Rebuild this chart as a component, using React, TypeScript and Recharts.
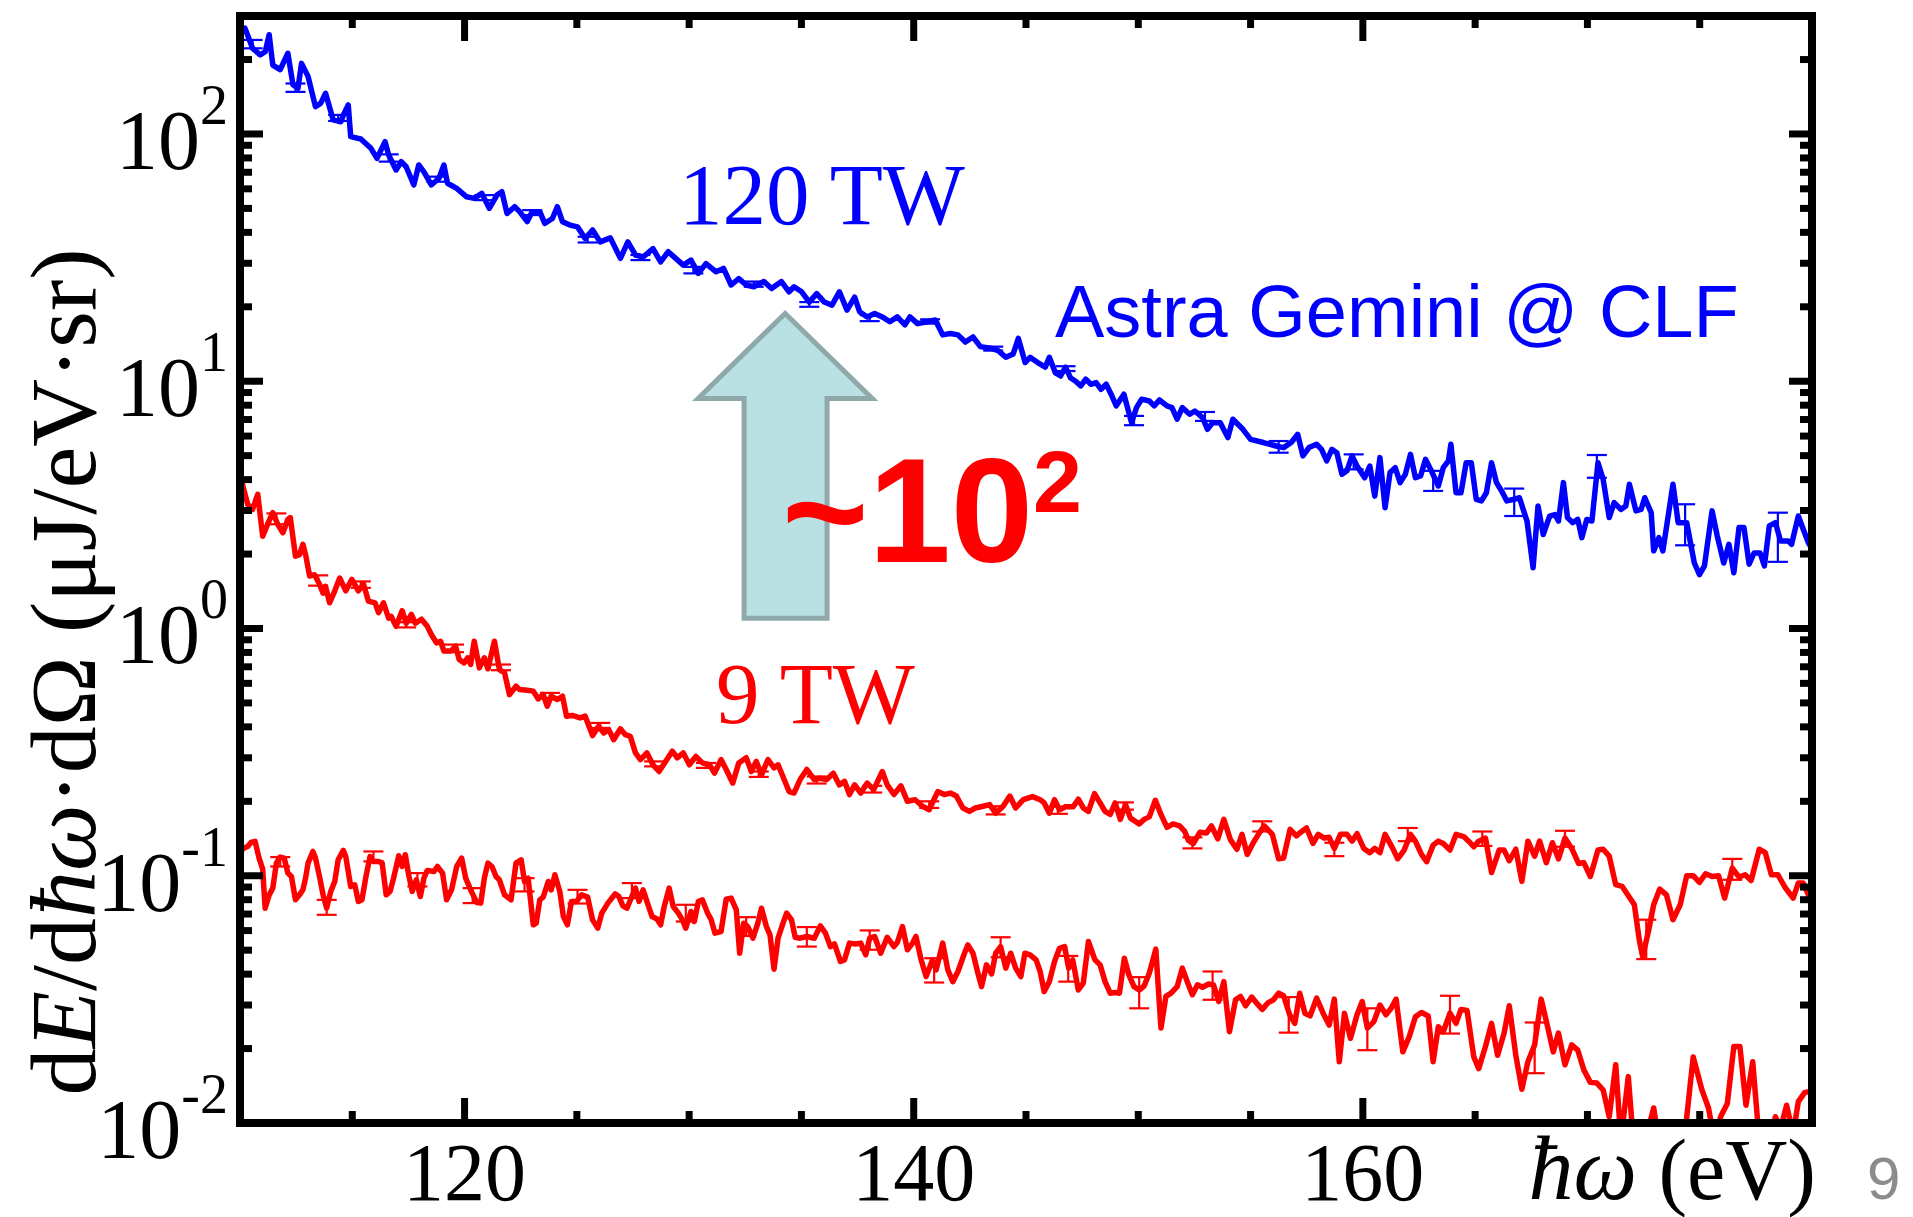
import React from 'react';
import { ComposedChart, Line, Scatter, XAxis, YAxis, ErrorBar, ReferenceArea } from 'recharts';

const W = 1913;
const H = 1217;
const SERIF = '"Liberation Serif", "Times New Roman", serif';
const SANS = '"Liberation Sans", Arial, sans-serif';
const BLUE = '#0000ff';
const RED = '#ff0000';

// axes
const X_DOMAIN: [number, number] = [110, 180];
const Y_DOMAIN: [number, number] = [0.01, 300];
const X_TICKS = [115, 120, 125, 130, 135, 140, 145, 150, 155, 160, 165, 170, 175, 180];
const X_MAJOR = [120, 140, 160, 180];
const X_LABELED = [120, 140, 160];
const Y_DECADES = [-2, -1, 0, 1, 2];
const Y_STEPS = [1, 2, 3, 4, 5, 6, 7, 8, 9];

// photon energy (eV) vs dE/dħω·dΩ (µJ/eV·sr)
const BLUE_120TW: [number, number][] = [
  [110.0, 265], [110.22, 268], [110.56, 222], [110.9, 209], [111.12, 215], [111.3, 252], [111.46, 190], [111.79, 182],
  [112.13, 212], [112.36, 158], [112.58, 153], [112.74, 193], [113.03, 171], [113.36, 129], [113.59, 133], [113.81, 146],
  [114.15, 114], [114.49, 112], [114.6, 119], [114.82, 131], [114.93, 97.5], [115.38, 95.4], [115.83, 87.5], [116.1, 79.7],
  [116.46, 93.1], [116.62, 82.2], [116.95, 71.5], [117.18, 77.3], [117.4, 73.7], [117.74, 62.2], [117.96, 74.9], [118.19, 70.3],
  [118.52, 62.2], [118.86, 66.2], [119.08, 74.9], [119.24, 63.2], [119.65, 60.2], [120.09, 55.7], [120.43, 54.9], [120.77, 57.5],
  [121.1, 50.0], [121.44, 56.6], [121.66, 58.4], [121.89, 47.7], [122.23, 50.8], [122.45, 48.5], [122.79, 44.2], [123.01, 48.5],
  [123.35, 48.5], [123.57, 43.5], [123.91, 45.5], [124.13, 50.8], [124.36, 44.2], [124.69, 42.8], [125.03, 42.1], [125.37, 37.8],
  [125.7, 40.9], [126.04, 36.6], [126.49, 38.0], [126.94, 31.4], [127.27, 36.6], [127.61, 32.4], [127.95, 31.8], [128.39, 34.4],
  [128.73, 30.4], [129.07, 33.4], [129.4, 31.4], [129.74, 29.5], [130.08, 30.9], [130.41, 27.3], [130.75, 29.9], [131.2, 27.7],
  [131.53, 28.6], [131.87, 24.5], [132.21, 26.0], [132.54, 24.5], [132.88, 24.1], [133.33, 25.3], [133.67, 23.7], [134.11, 25.3],
  [134.45, 23.0], [134.67, 24.1], [135.01, 23.0], [135.35, 20.9], [135.68, 22.6], [136.02, 20.9], [136.36, 20.3], [136.69, 23.0],
  [137.03, 19.4], [137.37, 21.9], [137.59, 19.1], [137.93, 18.2], [138.26, 18.8], [138.6, 18.2], [138.94, 17.4], [139.27, 18.2],
  [139.61, 16.9], [139.83, 18.2], [140.17, 17.1], [140.62, 17.4], [140.96, 17.7], [141.29, 15.4], [141.63, 15.6], [141.97, 15.4],
  [142.3, 14.4], [142.64, 15.1], [142.97, 13.8], [143.42, 13.6], [143.76, 13.3], [144.1, 12.5], [144.43, 12.9], [144.66, 14.9],
  [144.96, 11.9], [145.18, 12.5], [145.52, 11.9], [145.86, 11.4], [146.04, 12.5], [146.31, 10.8], [146.54, 10.5], [146.76, 11.4],
  [146.99, 10.3], [147.21, 10.0], [147.44, 9.58], [147.66, 10.2], [147.89, 9.72], [148.12, 9.88], [148.34, 9.28], [148.57, 9.72],
  [148.79, 8.86], [149.02, 7.95], [149.36, 8.86], [149.7, 6.8], [149.92, 7.82], [150.15, 8.46], [150.49, 8.32], [150.71, 7.95],
  [150.94, 8.4], [151.28, 7.95], [151.5, 7.82], [151.73, 7.02], [151.96, 7.82], [152.29, 7.35], [152.52, 7.58], [152.86, 7.13],
  [153.08, 6.39], [153.31, 6.8], [153.65, 6.8], [153.99, 5.92], [154.21, 7.02], [154.66, 6.39], [155.0, 5.82], [155.57, 5.65],
  [156.13, 5.47], [156.47, 5.39], [156.81, 5.65], [157.1, 6.1], [157.33, 4.99], [157.6, 5.39], [157.94, 5.56], [158.16, 5.3],
  [158.39, 4.76], [158.62, 5.3], [158.84, 5.14], [159.07, 4.2], [159.29, 4.34], [159.52, 4.99], [159.74, 4.54], [160.08, 4.07],
  [160.31, 4.54], [160.53, 3.43], [160.76, 4.91], [160.99, 3.08], [161.21, 4.27], [161.44, 4.47], [161.66, 3.89], [161.89, 4.2],
  [162.12, 5.06], [162.34, 4.07], [162.57, 4.14], [162.79, 4.83], [163.02, 4.4], [163.36, 3.77], [163.58, 4.47], [163.81, 4.76],
  [163.92, 5.56], [164.15, 3.54], [164.37, 3.54], [164.6, 4.68], [164.83, 4.68], [165.05, 3.33], [165.28, 3.28], [165.5, 3.54],
  [165.73, 4.68], [165.95, 3.89], [166.18, 3.6], [166.41, 3.28], [166.74, 3.33], [166.97, 3.38], [167.31, 2.72], [167.58, 1.76],
  [167.8, 3.13], [168.03, 2.4], [168.32, 2.85], [168.55, 2.89], [168.71, 2.72], [168.93, 3.89], [169.11, 2.81], [169.34, 2.68],
  [169.57, 2.76], [169.75, 2.33], [169.97, 2.76], [170.2, 2.72], [170.47, 4.68], [170.7, 4.01], [170.97, 2.81], [171.19, 3.23],
  [171.49, 3.03], [171.71, 3.13], [171.87, 3.83], [172.16, 2.99], [172.39, 3.03], [172.55, 3.38], [172.84, 2.94], [172.95, 2.06],
  [173.18, 2.33], [173.36, 2.06], [173.81, 3.83], [174.04, 2.68], [174.42, 2.68], [174.76, 1.84], [174.99, 1.65], [175.21, 1.79],
  [175.55, 2.99], [175.78, 2.37], [176.07, 1.84], [176.3, 2.19], [176.52, 1.68], [176.75, 2.56], [176.97, 2.56], [177.2, 1.82],
  [177.42, 2.02], [177.69, 2.02], [177.88, 1.79], [178.1, 2.6], [178.37, 2.68], [178.6, 2.26], [178.94, 2.26], [179.09, 2.19],
  [179.39, 2.85], [179.61, 2.52], [179.84, 2.22], [180.0, 2.1],
];

const RED_9TW: [number, number][] = [
  [110.0, 3.9], [110.11, 3.83], [110.34, 3.18], [110.56, 3.03], [110.79, 3.49], [111.01, 2.36], [111.23, 2.64], [111.46, 2.94],
  [111.68, 2.64], [111.91, 2.44], [112.13, 2.76], [112.24, 2.81], [112.47, 1.96], [112.65, 1.99], [112.8, 2.19], [112.92, 1.99],
  [113.1, 1.63], [113.32, 1.65], [113.54, 1.51], [113.7, 1.39], [113.81, 1.48], [113.99, 1.27], [114.22, 1.42], [114.44, 1.6],
  [114.71, 1.42], [114.98, 1.58], [115.27, 1.42], [115.5, 1.51], [115.72, 1.29], [116.01, 1.27], [116.17, 1.16], [116.39, 1.27],
  [116.62, 1.1], [116.73, 1.12], [116.95, 1.02], [117.22, 1.18], [117.4, 1.05], [117.63, 1.14], [117.81, 1.05], [118.08, 1.09],
  [118.34, 1.02], [118.52, 0.945], [118.75, 0.875], [118.93, 0.888], [119.08, 0.81], [119.38, 0.81], [119.6, 0.848], [119.76, 0.749],
  [119.98, 0.726], [120.14, 0.761], [120.27, 0.715], [120.43, 0.888], [120.66, 0.693], [120.88, 0.761], [121.04, 0.687], [121.33, 0.888],
  [121.55, 0.682], [121.78, 0.662], [122.0, 0.54], [122.29, 0.584], [122.45, 0.566], [122.79, 0.563], [123.06, 0.558], [123.28, 0.519],
  [123.5, 0.54], [123.68, 0.485], [123.86, 0.532], [124.13, 0.516], [124.36, 0.532], [124.54, 0.442], [124.8, 0.445], [125.14, 0.435],
  [125.37, 0.442], [125.7, 0.369], [125.97, 0.402], [126.2, 0.378], [126.42, 0.39], [126.64, 0.355], [126.94, 0.393], [127.16, 0.372],
  [127.38, 0.366], [127.61, 0.314], [127.83, 0.295], [128.12, 0.314], [128.39, 0.281], [128.66, 0.264], [128.95, 0.29], [129.25, 0.319],
  [129.47, 0.3], [129.74, 0.314], [130.01, 0.281], [130.3, 0.304], [130.59, 0.286], [130.91, 0.281], [131.13, 0.26], [131.42, 0.295],
  [131.65, 0.269], [131.94, 0.237], [132.21, 0.286], [132.54, 0.3], [132.77, 0.264], [132.99, 0.29], [133.22, 0.256], [133.51, 0.295],
  [133.78, 0.273], [133.96, 0.281], [134.23, 0.245], [134.45, 0.219], [134.67, 0.216], [134.94, 0.245], [135.24, 0.269], [135.57, 0.245],
  [135.8, 0.248], [136.13, 0.245], [136.42, 0.26], [136.69, 0.233], [136.92, 0.241], [137.14, 0.213], [137.37, 0.233], [137.64, 0.216],
  [137.93, 0.237], [138.22, 0.223], [138.6, 0.264], [138.82, 0.233], [139.12, 0.213], [139.43, 0.231], [139.72, 0.2], [140.06, 0.203],
  [140.39, 0.191], [140.69, 0.185], [141.07, 0.219], [141.36, 0.213], [141.63, 0.216], [141.9, 0.21], [142.19, 0.188], [142.48, 0.182],
  [142.75, 0.188], [143.09, 0.191], [143.38, 0.194], [143.65, 0.179], [143.98, 0.191], [144.28, 0.21], [144.54, 0.188], [144.88, 0.203],
  [145.29, 0.209], [145.63, 0.203], [145.81, 0.197], [146.04, 0.179], [146.27, 0.203], [146.49, 0.185], [146.76, 0.19], [147.1, 0.19],
  [147.33, 0.204], [147.55, 0.188], [147.78, 0.182], [148.05, 0.215], [148.3, 0.197], [148.52, 0.182], [148.75, 0.177], [148.97, 0.197],
  [149.2, 0.169], [149.43, 0.194], [149.65, 0.171], [150.04, 0.162], [150.26, 0.169], [150.49, 0.173], [150.76, 0.202], [151.01, 0.177],
  [151.28, 0.157], [151.55, 0.162], [151.84, 0.159], [152.07, 0.151], [152.23, 0.139], [152.45, 0.135], [152.75, 0.15], [153.04, 0.149],
  [153.26, 0.159], [153.54, 0.141], [153.81, 0.169], [154.1, 0.14], [154.39, 0.128], [154.62, 0.147], [154.85, 0.122], [155.12, 0.136],
  [155.39, 0.149], [155.61, 0.159], [155.97, 0.147], [156.25, 0.117], [156.47, 0.118], [156.76, 0.154], [157.04, 0.145], [157.19, 0.149],
  [157.49, 0.156], [157.78, 0.135], [158.01, 0.147], [158.28, 0.142], [158.5, 0.143], [158.73, 0.129], [159.0, 0.147], [159.29, 0.147],
  [159.52, 0.138], [159.74, 0.148], [160.04, 0.129], [160.31, 0.124], [160.53, 0.129], [160.76, 0.124], [160.99, 0.147], [161.33, 0.129],
  [161.55, 0.117], [161.84, 0.127], [162.12, 0.147], [162.34, 0.138], [162.61, 0.122], [162.84, 0.114], [163.13, 0.133], [163.36, 0.138],
  [163.58, 0.135], [163.88, 0.127], [164.15, 0.147], [164.49, 0.144], [164.71, 0.138], [164.94, 0.131], [165.16, 0.138], [165.46, 0.142],
  [165.73, 0.103], [166.07, 0.127], [166.29, 0.127], [166.52, 0.115], [166.81, 0.128], [167.08, 0.0949], [167.35, 0.138], [167.65, 0.12],
  [167.87, 0.138], [168.17, 0.113], [168.44, 0.136], [168.71, 0.117], [169.0, 0.142], [169.3, 0.129], [169.61, 0.112], [169.84, 0.113],
  [170.13, 0.0993], [170.47, 0.127], [170.7, 0.128], [170.97, 0.12], [171.26, 0.092], [171.55, 0.0905], [172.09, 0.0763], [172.32, 0.0542],
  [172.46, 0.0471], [172.73, 0.0604], [172.95, 0.0763], [173.22, 0.0883], [173.52, 0.0837], [173.81, 0.0664], [174.13, 0.0763], [174.42, 0.1],
  [174.71, 0.1], [174.99, 0.094], [175.26, 0.1018], [175.55, 0.0993], [175.84, 0.1], [176.11, 0.0812], [176.45, 0.1074], [176.75, 0.0988],
  [177.02, 0.1009], [177.29, 0.0957], [177.65, 0.128], [177.92, 0.124], [178.19, 0.1009], [178.48, 0.1009], [178.82, 0.0892], [179.16, 0.0812],
  [179.39, 0.0934], [179.61, 0.0934], [179.84, 0.0837], [180.0, 0.082],
];

const RED_LOW: [number, number][] = [
  [110.0, 0.125], [110.18, 0.1294], [110.34, 0.1314], [110.49, 0.1364], [110.67, 0.1377], [110.85, 0.1179], [111.01, 0.1064], [111.12, 0.0739],
  [111.3, 0.0837], [111.46, 0.0891], [111.62, 0.1125], [111.79, 0.119], [111.97, 0.1179], [112.13, 0.1025], [112.29, 0.0993], [112.47, 0.0799],
  [112.65, 0.0837], [112.8, 0.0877], [112.92, 0.0978], [113.03, 0.1125], [113.25, 0.1254], [113.36, 0.1179], [113.54, 0.0993], [113.7, 0.0837],
  [113.86, 0.0739], [114.04, 0.0864], [114.22, 0.0948], [114.37, 0.116], [114.6, 0.1266], [114.71, 0.1197], [114.93, 0.0905], [115.11, 0.0919],
  [115.27, 0.0787], [115.43, 0.0799], [115.61, 0.0993], [115.79, 0.1197], [115.94, 0.1143], [116.17, 0.1143], [116.33, 0.1125], [116.51, 0.0837],
  [116.68, 0.0864], [116.84, 0.0978], [117.07, 0.1205], [117.22, 0.109], [117.36, 0.1216], [117.51, 0.1009], [117.67, 0.0864], [117.85, 0.0963],
  [118.03, 0.0824], [118.19, 0.0978], [118.34, 0.1051], [118.64, 0.1041], [118.79, 0.109], [119.02, 0.1025], [119.2, 0.0799], [119.42, 0.0877],
  [119.65, 0.109], [119.87, 0.1179], [120.05, 0.0978], [120.27, 0.0877], [120.54, 0.078], [120.72, 0.0775], [120.88, 0.0978], [121.04, 0.1125],
  [121.22, 0.109], [121.4, 0.0993], [121.55, 0.0963], [121.78, 0.0837], [122.07, 0.0799], [122.29, 0.1125], [122.52, 0.116], [122.67, 0.0948],
  [122.83, 0.0978], [123.06, 0.0633], [123.19, 0.0643], [123.35, 0.0799], [123.5, 0.0819], [123.73, 0.0948], [123.86, 0.0877], [124.02, 0.1009],
  [124.24, 0.0864], [124.4, 0.0684], [124.58, 0.0633], [124.76, 0.0787], [124.98, 0.0787], [125.21, 0.0837], [125.48, 0.0819], [125.7, 0.0663],
  [125.93, 0.0614], [126.11, 0.0706], [126.38, 0.0775], [126.71, 0.0845], [126.87, 0.0824], [127.05, 0.0756], [127.23, 0.0739], [127.45, 0.0824],
  [127.61, 0.0891], [127.77, 0.0787], [127.95, 0.0877], [128.17, 0.0763], [128.35, 0.0684], [128.57, 0.0668], [128.73, 0.0633], [128.89, 0.0751],
  [129.11, 0.0891], [129.29, 0.0751], [129.52, 0.0706], [129.7, 0.0663], [129.85, 0.0614], [130.08, 0.0717], [130.23, 0.0653], [130.41, 0.0787],
  [130.59, 0.0799], [130.82, 0.0706], [130.97, 0.0668], [131.15, 0.0586], [131.42, 0.0595], [131.65, 0.0804], [131.87, 0.0812], [132.1, 0.0728],
  [132.25, 0.0486], [132.43, 0.0643], [132.61, 0.0623], [132.84, 0.0559], [133.06, 0.0643], [133.22, 0.0739], [133.44, 0.0623], [133.6, 0.0577],
  [133.78, 0.0419], [133.96, 0.0559], [134.18, 0.0643], [134.34, 0.0706], [134.56, 0.0663], [134.72, 0.0564], [134.94, 0.0559], [135.24, 0.0568],
  [135.57, 0.0559], [135.84, 0.0627], [136.07, 0.0586], [136.29, 0.0517], [136.47, 0.053], [136.74, 0.045], [136.92, 0.0457], [137.14, 0.0534],
  [137.41, 0.053], [137.64, 0.0534], [137.86, 0.0479], [138.04, 0.0559], [138.26, 0.0568], [138.53, 0.0486], [138.82, 0.0564], [139.12, 0.0517],
  [139.27, 0.0537], [139.5, 0.0623], [139.72, 0.0502], [139.95, 0.0534], [140.1, 0.0568], [140.33, 0.0457], [140.55, 0.0391], [140.84, 0.0457],
  [141.0, 0.0416], [141.29, 0.0534], [141.52, 0.0416], [141.74, 0.0373], [141.97, 0.041], [142.26, 0.0486], [142.41, 0.0525], [142.64, 0.0486],
  [142.86, 0.0403], [143.02, 0.0356], [143.24, 0.0436], [143.47, 0.0401], [143.65, 0.0486], [143.87, 0.0517], [144.1, 0.0423], [144.32, 0.0486],
  [144.54, 0.0423], [144.77, 0.0391], [144.95, 0.0486], [145.18, 0.0479], [145.45, 0.0457], [145.63, 0.041], [145.81, 0.034], [146.04, 0.0373],
  [146.27, 0.045], [146.49, 0.0509], [146.72, 0.0517], [146.9, 0.0423], [147.08, 0.0457], [147.33, 0.0345], [147.55, 0.0368], [147.78, 0.0542],
  [148.07, 0.0457], [148.3, 0.0436], [148.52, 0.0373], [148.75, 0.0335], [148.97, 0.0337], [149.16, 0.0335], [149.38, 0.0464], [149.58, 0.0397],
  [149.81, 0.0356], [150.04, 0.0345], [150.26, 0.0358], [150.49, 0.0403], [150.78, 0.0505], [151.01, 0.0242], [151.23, 0.0325], [151.46, 0.0335],
  [151.73, 0.0356], [151.96, 0.0423], [152.18, 0.0373], [152.41, 0.033], [152.63, 0.0362], [152.86, 0.0354], [153.13, 0.0365], [153.35, 0.0362],
  [153.58, 0.031], [153.81, 0.0373], [154.06, 0.0234], [154.33, 0.0315], [154.55, 0.0325], [154.78, 0.0298], [155.05, 0.0323], [155.3, 0.0303],
  [155.52, 0.0288], [155.79, 0.0307], [156.02, 0.0315], [156.25, 0.0335], [156.47, 0.0327], [156.74, 0.0274], [156.97, 0.0253], [157.19, 0.0335],
  [157.42, 0.0278], [157.65, 0.0271], [157.94, 0.032], [158.23, 0.0278], [158.5, 0.0249], [158.73, 0.0317], [158.95, 0.0177], [159.18, 0.0278],
  [159.45, 0.022], [159.74, 0.0274], [159.97, 0.031], [160.2, 0.0242], [160.49, 0.0257], [160.76, 0.03], [161.03, 0.0274], [161.26, 0.0291],
  [161.48, 0.0317], [161.78, 0.0194], [162.07, 0.0224], [162.34, 0.0269], [162.61, 0.028], [162.91, 0.0271], [163.13, 0.0177], [163.36, 0.0245],
  [163.58, 0.0234], [163.88, 0.0278], [164.15, 0.0253], [164.37, 0.0288], [164.64, 0.0285], [164.94, 0.0185], [165.16, 0.0166], [165.46, 0.0204],
  [165.73, 0.0253], [166.0, 0.0188], [166.29, 0.0231], [166.52, 0.0298], [166.81, 0.0188], [167.08, 0.0137], [167.35, 0.0177], [167.65, 0.0207],
  [167.94, 0.0317], [168.21, 0.0249], [168.48, 0.0194], [168.71, 0.0231], [169.0, 0.0172], [169.3, 0.0207], [169.57, 0.0197], [169.84, 0.0164],
  [170.13, 0.0146], [170.42, 0.0145], [170.7, 0.0136], [170.97, 0.0106], [171.26, 0.0172], [171.49, 0.0085], [171.82, 0.0154], [172.09, 0.0075],
  [172.5, 0.008], [172.95, 0.0115], [173.22, 0.008], [173.86, 0.007], [174.31, 0.0085], [174.71, 0.0185], [175.1, 0.0136], [175.39, 0.0115],
  [175.66, 0.0085], [175.93, 0.0106], [176.23, 0.012], [176.52, 0.0204], [176.79, 0.0204], [177.06, 0.0118], [177.36, 0.0177], [177.65, 0.0085],
  [178.03, 0.008], [178.37, 0.0106], [178.6, 0.0095], [178.87, 0.0118], [179.16, 0.009], [179.39, 0.0122], [179.68, 0.0133], [179.95, 0.0134],
];

// error bars: [eV, lower end, upper end]
const BLUE_ERR: [number, number, number][] = [
  [110.56, 222, 240], [112.47, 148, 160], [114.37, 112.9, 119.4], [116.62, 77.3, 82.7], [118.75, 64.1, 67.2],
  [120.88, 54.0, 56.6], [123.01, 47.0, 49.2], [125.48, 36.4, 38.4], [127.83, 30.9, 32.4], [130.19, 27.3, 29.0],
  [132.88, 24.1, 25.3], [135.35, 20.0, 20.9], [138.04, 17.5, 18.5], [140.73, 17.1, 17.8], [143.54, 13.3, 13.8],
  [146.76, 11.0, 11.5], [149.81, 6.64, 7.24], [152.97, 6.91, 7.51], [156.25, 5.14, 5.73], [159.59, 4.4, 5.06],
  [163.13, 3.6, 4.34], [166.74, 2.85, 3.68], [170.42, 4.07, 5.03], [174.35, 2.17, 3.18], [178.48, 1.86, 2.94],
];
const RED_9TW_ERR: [number, number, number][] = [
  [111.62, 2.64, 2.92], [113.48, 1.49, 1.64], [115.38, 1.46, 1.55], [117.4, 1.01, 1.06], [119.53, 0.802, 0.861],
  [121.62, 0.678, 0.715], [123.8, 0.524, 0.549], [126.04, 0.396, 0.415], [128.44, 0.277, 0.29], [130.75, 0.273, 0.286],
  [133.1, 0.251, 0.264], [135.68, 0.236, 0.252], [138.15, 0.217, 0.231], [140.69, 0.188, 0.2], [143.65, 0.177, 0.191],
  [146.42, 0.178, 0.19], [149.36, 0.185, 0.198], [152.41, 0.129, 0.143], [155.52, 0.151, 0.166], [158.73, 0.12, 0.136],
  [162.0, 0.138, 0.156], [165.32, 0.132, 0.151], [169.0, 0.131, 0.152], [172.62, 0.046, 0.0664], [176.45, 0.0963, 0.117],
];
const RED_LOW_ERR: [number, number, number][] = [
  [111.79, 0.109, 0.119], [113.86, 0.0695, 0.0799], [115.94, 0.1143, 0.1254], [117.9, 0.0905, 0.1025], [120.36, 0.0775, 0.0891],
  [122.67, 0.0864, 0.0978], [125.03, 0.0772, 0.0877], [127.45, 0.0812, 0.0934], [129.85, 0.0653, 0.0763], [132.54, 0.0571, 0.068],
  [135.24, 0.0517, 0.062], [138.04, 0.0502, 0.0601], [140.91, 0.037, 0.0464], [143.87, 0.0468, 0.0564], [146.88, 0.0373, 0.0474],
  [150.04, 0.0291, 0.0389], [153.31, 0.0315, 0.041], [156.7, 0.0232, 0.0323], [160.2, 0.0197, 0.0291], [163.88, 0.023, 0.0327],
  [167.65, 0.0159, 0.0255],
];

// arrow box (eV range, value range)
const ARROW_EV: [number, number] = [130.4, 138.15];
const ARROW_VAL: [number, number] = [1.1, 18.8];

const Y_TICKS = Y_DECADES.flatMap(d => Y_STEPS.map(s => +(s * Math.pow(10, d)).toPrecision(3))).filter(v => v <= 200);

const toRows = (pts: [number, number][]) => pts.map(([ev, v]) => ({ ev, v }));
const toErrRows = (pts: [number, number, number][]) =>
  pts.map(([ev, lo, hi]) => {
    const mid = Math.sqrt(lo * hi);
    return { ev, v: mid, err: [mid - lo, hi - mid] };
  });

const isDecade = (v: number) => Math.abs(Math.log10(v) - Math.round(Math.log10(v))) < 1e-6;
const FRAME = { stroke: '#000', strokeWidth: 8, strokeLinecap: 'square' as const };

function BottomTick(props: any) {
  const { x, y, payload } = props;
  const v = payload.value;
  const major = X_MAJOR.includes(v);
  return (
    <g>
      <line x1={x} y1={y} x2={x} y2={y - (major ? 25 : 12)} stroke="#000" strokeWidth={7} />
      {X_LABELED.includes(v) && (
        <text x={x} y={y + 77} textAnchor="middle" fontFamily={SERIF} fontSize={82} fill="#000">{v}</text>
      )}
    </g>
  );
}

function TopTick(props: any) {
  const { x, y, payload } = props;
  const major = X_MAJOR.includes(payload.value);
  return <line x1={x} y1={y} x2={x} y2={y + (major ? 25 : 12)} stroke="#000" strokeWidth={7} />;
}

function LeftTick(props: any) {
  const { x, y, payload } = props;
  const v = payload.value;
  const major = isDecade(v);
  return (
    <g>
      <line x1={x} y1={y} x2={x + (major ? 23 : 12)} y2={y} stroke="#000" strokeWidth={7} />
      {major && (
        <text x={x - 12} y={y + 35} textAnchor="end" fontFamily={SERIF} fill="#000">
          <tspan fontSize={84}>10</tspan>
          <tspan fontSize={56} dy={-45}>{Math.round(Math.log10(v))}</tspan>
        </text>
      )}
    </g>
  );
}

function RightTick(props: any) {
  const { x, y, payload } = props;
  const major = isDecade(payload.value);
  return <line x1={x} y1={y} x2={x - (major ? 23 : 12)} y2={y} stroke="#000" strokeWidth={7} />;
}

function ArrowShape(props: any) {
  const { x, y, width, height } = props;
  const cx = x + width / 2;
  const headY = y + height * 0.279;
  const s1 = x + width * 0.264;
  const s2 = x + width * 0.741;
  const pts = [
    [cx, y], [x + width, headY], [s2, headY], [s2, y + height], [s1, y + height], [s1, headY], [x, headY],
  ].map(p => p.join(',')).join(' ');
  return <polygon points={pts} fill="#b9e0e3" stroke="#8fa9ab" strokeWidth={5} strokeLinejoin="miter" />;
}

const emptyShape = () => <g />;

export default function App() {
  return (
    <div style={{ position: 'absolute', left: 0, top: 0, width: W, height: H, background: '#fff' }}>
      <ComposedChart width={W} height={H} margin={{ top: 15, right: 100, bottom: 0, left: 0 }}>
        <XAxis dataKey="ev" type="number" domain={X_DOMAIN} allowDataOverflow ticks={X_TICKS} interval={0}
          height={94} tickSize={0} tickMargin={0} tickLine={false} tick={BottomTick} axisLine={FRAME} />
        <XAxis xAxisId="top" orientation="top" dataKey="ev" type="number" domain={X_DOMAIN} allowDataOverflow
          ticks={X_TICKS} interval={0} height={1} tickSize={0} tickMargin={0} tickLine={false} tick={TopTick} axisLine={FRAME} />
        <YAxis type="number" scale="log" domain={Y_DOMAIN} allowDataOverflow ticks={Y_TICKS} interval={0}
          width={240} tickSize={0} tickMargin={0} tickLine={false} tick={LeftTick} axisLine={FRAME} />
        <YAxis yAxisId="right" orientation="right" type="number" scale="log" domain={Y_DOMAIN} allowDataOverflow
          ticks={Y_TICKS} interval={0} width={1} tickSize={0} tickMargin={0} tickLine={false} tick={RightTick} axisLine={FRAME} />

        <ReferenceArea x1={ARROW_EV[0]} x2={ARROW_EV[1]} y1={ARROW_VAL[0]} y2={ARROW_VAL[1]} shape={ArrowShape} ifOverflow="visible" />

        <Line data={toRows(BLUE_120TW)} dataKey="v" stroke={BLUE} strokeWidth={5.5} dot={false} activeDot={false}
          strokeLinejoin="round" isAnimationActive={false} />
        <Line data={toRows(RED_9TW)} dataKey="v" stroke={RED} strokeWidth={5.5} dot={false} activeDot={false}
          strokeLinejoin="round" isAnimationActive={false} />
        <Line data={toRows(RED_LOW)} dataKey="v" stroke={RED} strokeWidth={5.5} dot={false} activeDot={false}
          strokeLinejoin="round" isAnimationActive={false} />

        <Scatter data={toErrRows(BLUE_ERR)} dataKey="v" shape={emptyShape} isAnimationActive={false}>
          <ErrorBar dataKey="err" direction="y" width={10} stroke={BLUE} strokeWidth={2.2} isAnimationActive={false} />
        </Scatter>
        <Scatter data={toErrRows(RED_9TW_ERR)} dataKey="v" shape={emptyShape} isAnimationActive={false}>
          <ErrorBar dataKey="err" direction="y" width={10} stroke={RED} strokeWidth={2.2} isAnimationActive={false} />
        </Scatter>
        <Scatter data={toErrRows(RED_LOW_ERR)} dataKey="v" shape={emptyShape} isAnimationActive={false}>
          <ErrorBar dataKey="err" direction="y" width={10} stroke={RED} strokeWidth={2.2} isAnimationActive={false} />
        </Scatter>
      </ComposedChart>

      <svg width={W} height={H} style={{ position: 'absolute', left: 0, top: 0, pointerEvents: 'none' }}>
        <text x={95} y={672} transform="rotate(-90 95 672)" textAnchor="middle" fontFamily={SERIF} fontSize={94} fill="#000">
          d<tspan fontStyle="italic">E</tspan>/d<tspan fontStyle="italic">ħω</tspan>·dΩ (μJ/eV·sr)
        </text>
        <text x={1816} y={1199} textAnchor="end" fontFamily={SERIF} fontSize={86} fill="#000">
          <tspan fontStyle="italic" fontSize={90}>ħω</tspan> (eV)
        </text>
        <text x={1867} y={1199} fontFamily={SANS} fontSize={60} fill="#8c8c8c">9</text>

        <text x={679} y={224} fontFamily={SERIF} fontSize={87} fill={BLUE}>120 TW</text>
        <text x={1055} y={337} fontFamily={SANS} fontSize={74} fill={BLUE}>Astra Gemini @ CLF</text>
        <text x={716} y={723} fontFamily={SERIF} fontSize={87} fill={RED}>9 TW</text>
        <text x={782} y={562} fontFamily={SANS} fontWeight="bold" fontSize={148} fill={RED}>
          ~10<tspan fontSize={88} dy={-50}>2</tspan>
        </text>
      </svg>
    </div>
  );
}
